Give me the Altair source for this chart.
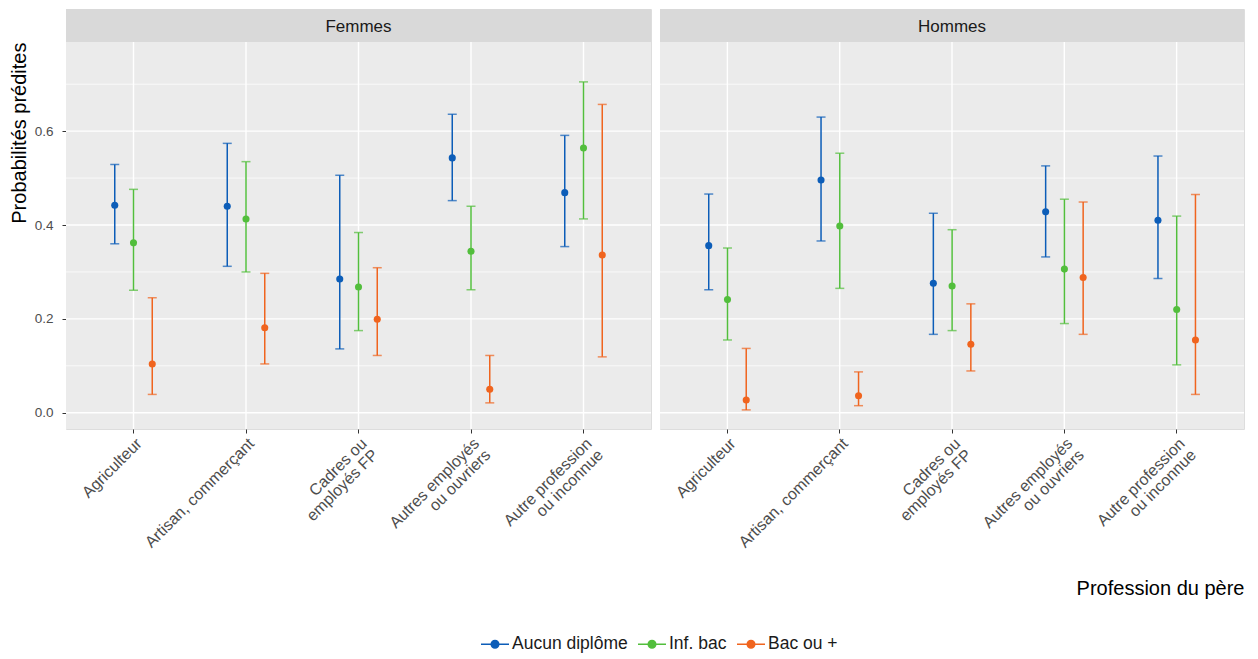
import altair as alt
import pandas as pd

categories = ["Agriculteur", "Artisan, commerçant", "Cadres ou\nemployés FP",
              "Autres employés\nou ouvriers", "Autre profession\nou inconnue"]
groups = ["Aucun diplôme", "Inf. bac", "Bac ou +"]
sexes = ["Femmes", "Hommes"]
colors = ["#0C5DB8", "#52BE3C", "#F0641E"]

# Femmes
f_aucun_est = [0.442, 0.440, 0.285, 0.543, 0.469]
f_aucun_low = [0.360, 0.312, 0.136, 0.452, 0.354]
f_aucun_up = [0.529, 0.574, 0.506, 0.636, 0.591]
f_inf_est = [0.362, 0.413, 0.268, 0.344, 0.564]
f_inf_low = [0.261, 0.300, 0.175, 0.262, 0.413]
f_inf_up = [0.476, 0.535, 0.384, 0.440, 0.705]
f_bac_est = [0.104, 0.181, 0.199, 0.050, 0.336]
f_bac_low = [0.039, 0.104, 0.122, 0.021, 0.119]
f_bac_up = [0.245, 0.297, 0.309, 0.122, 0.657]

# Hommes
h_aucun_est = [0.356, 0.496, 0.276, 0.428, 0.410]
h_aucun_low = [0.262, 0.366, 0.167, 0.332, 0.286]
h_aucun_up = [0.466, 0.630, 0.425, 0.526, 0.547]
h_inf_est = [0.241, 0.398, 0.270, 0.306, 0.220]
h_inf_low = [0.155, 0.265, 0.175, 0.190, 0.102]
h_inf_up = [0.351, 0.553, 0.390, 0.455, 0.419]
h_bac_est = [0.027, 0.036, 0.146, 0.288, 0.155]
h_bac_low = [0.006, 0.015, 0.089, 0.167, 0.039]
h_bac_up = [0.137, 0.087, 0.232, 0.449, 0.465]

minor_breaks = [0.1, 0.3, 0.5, 0.7]
major_breaks = [0.0, 0.2, 0.4, 0.6]

series = {
    "Femmes": {
        "Aucun diplôme": (f_aucun_est, f_aucun_low, f_aucun_up),
        "Inf. bac": (f_inf_est, f_inf_low, f_inf_up),
        "Bac ou +": (f_bac_est, f_bac_low, f_bac_up),
    },
    "Hommes": {
        "Aucun diplôme": (h_aucun_est, h_aucun_low, h_aucun_up),
        "Inf. bac": (h_inf_est, h_inf_low, h_inf_up),
        "Bac ou +": (h_bac_est, h_bac_low, h_bac_up),
    },
}

rows = []
for s in sexes:
    for g in groups:
        est, low, up = series[s][g]
        for i, c in enumerate(categories):
            rows.append({"sexe": s, "diplome": g, "profession": c,
                         "estimate": est[i], "lower": low[i], "upper": up[i]})
df = pd.DataFrame(rows)
minor_df = pd.DataFrame({"v": minor_breaks})
major_df = pd.DataFrame({"v": major_breaks})
cat_df = pd.DataFrame({"profession": categories})

FONT = "Liberation Sans"
H, SH = 420, 33
yscale = alt.Scale(domain=[-0.0347, 0.790], nice=False, zero=False,
                   range=[H, SH])
xscale = alt.Scale(domain=categories, paddingInner=0, paddingOuter=0.1)
legend_path = ("M-1,0H1M-0.27,0A0.27,0.27,0,1,1,0.27,0"
               "A0.27,0.27,0,1,1,-0.27,0Z")


def panel(sex, first, width):
    d = df[df.sexe == sex]
    if first:
        yaxis = alt.Axis(title="Probabilités prédites", titleAnchor="end",
                         values=major_breaks, format=".1f", labelFontSize=13.5,
                         labelColor="#4D4D4D", tickColor="#333333", tickSize=4,
                         domain=False, grid=False,
                         titleFontSize=20, titleFontWeight="normal",
                         titleColor="black", titlePadding=5, labelPadding=9)
        xtitle = None
    else:
        yaxis = None
        xtitle = "Profession du père"
    xaxis = alt.Axis(title=xtitle, titleAnchor="end", labelAngle=-45,
                     labelAlign="right", labelBaseline="top",
                     labelExpr="split(datum.label, '\\n')",
                     labelLineHeight=16, labelFontSize=16,
                     labelColor="#4D4D4D", tickColor="#333333", tickSize=4,
                     domain=False, grid=False, bandPosition=0.5,
                     titleFontSize=20, titleFontWeight="normal",
                     titleColor="black", titlePadding=28, labelPadding=2)
    step = width / 5.2
    X = alt.X("profession:N", sort=categories, scale=xscale, axis=xaxis)

    def Y(field):
        return alt.Y(field, scale=yscale, axis=yaxis)

    base = alt.Chart(d).encode(
        x=X,
        xOffset=alt.XOffset("diplome:N", sort=groups,
                            scale=alt.Scale(domain=groups, paddingInner=0,
                                            paddingOuter=0,
                                            range=[0.25 * step, 0.75 * step])),
        color=alt.Color("diplome:N", sort=groups,
                        scale=alt.Scale(domain=groups, range=colors),
                        legend=alt.Legend(title=None, orient="none",
                                          direction="horizontal",
                                          legendX=414, legendY=620,
                                          symbolType=legend_path,
                                          symbolSize=784,
                                          symbolStrokeWidth=1.5,
                                          symbolOpacity=1,
                                          labelFontSize=17.5,
                                          labelColor="#1A1A1A",
                                          labelFont=FONT,
                                          columnPadding=7,
                                          labelOffset=2)),
    )
    bg = alt.Chart(pd.DataFrame({"s": [sex]})).mark_rect(color="#EBEBEB").encode(
        x=alt.value(0), x2=alt.value(width), y=alt.value(SH), y2=alt.value(H))
    minor = alt.Chart(minor_df).mark_rule(color="white", strokeWidth=0.7).encode(
        y=Y("v:Q"))
    major = alt.Chart(major_df).mark_rule(color="white", strokeWidth=1.4).encode(
        y=Y("v:Q"))
    vgrid = alt.Chart(cat_df).mark_rule(color="white", strokeWidth=1.4).encode(
        x=X, y=alt.value(SH), y2=alt.value(H))
    rules = base.mark_rule(strokeWidth=1.5).encode(y=Y("lower:Q"), y2="upper:Q")
    cap_low = base.mark_tick(size=9, thickness=1.5).encode(y=Y("lower:Q"))
    cap_up = base.mark_tick(size=9, thickness=1.5).encode(y=Y("upper:Q"))
    pts = base.mark_circle(size=50, opacity=1).encode(y=Y("estimate:Q"))

    sdf = pd.DataFrame({"label": [sex]})
    strip_rect = alt.Chart(sdf).mark_rect(color="#D9D9D9").encode(
        x=alt.value(0), x2=alt.value(width), y=alt.value(0), y2=alt.value(SH))
    strip_text = alt.Chart(sdf).mark_text(
        fontSize=17, color="#1A1A1A", font=FONT, baseline="middle",
        align="center").encode(x=alt.value(width / 2), y=alt.value(SH / 2 + 1),
                               text="label:N")
    return alt.layer(bg, minor, major, vgrid, rules, cap_low, cap_up, pts,
                     strip_rect, strip_text).properties(width=width, height=H)


chart = alt.hconcat(panel("Femmes", True, 585), panel("Hommes", False, 584),
                    spacing=5).resolve_scale(
    color="shared").properties(padding=0).configure_view(
    strokeWidth=0, stroke="transparent").configure(font=FONT)

chart.save("out.html", embed_options={"renderer": "svg", "actions": False})
